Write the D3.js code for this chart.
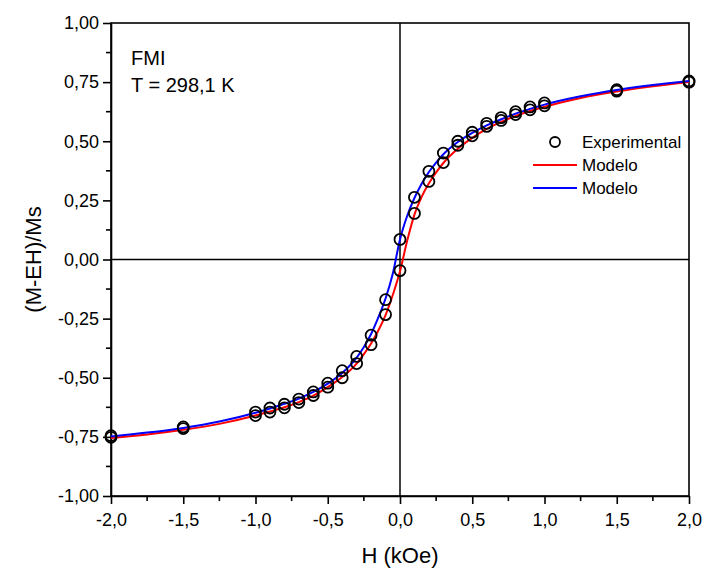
<!DOCTYPE html>
<html>
<head>
<meta charset="utf-8">
<script src="https://cdn.jsdelivr.net/npm/d3@7"></script>
<style>
  html, body { margin: 0; padding: 0; background: #fff; }
  svg { display: block; font-family: Arial, "Liberation Sans", sans-serif; }
</style>
</head>
<body>
<svg id="chart" width="705" height="577"></svg>
<script>
// Applied field H (kOe) of the measured points
const fieldH = [-2.0, -1.5, -1.0, -0.9, -0.8, -0.7, -0.6, -0.5, -0.4, -0.3, -0.2, -0.1, 0.0,
                0.1, 0.2, 0.3, 0.4, 0.5, 0.6, 0.7, 0.8, 0.9, 1.0, 1.5, 2.0];
// Reduced magnetization on the upper (descending) and lower (ascending) branches
const expUpper = [-0.745, -0.708, -0.645, -0.628, -0.612, -0.590, -0.560, -0.523, -0.470, -0.410, -0.320, -0.170, 0.085,
                  0.263, 0.373, 0.450, 0.500, 0.538, 0.576, 0.600, 0.625, 0.645, 0.662, 0.718, 0.755];
const expLower = [-0.752, -0.715, -0.660, -0.645, -0.627, -0.605, -0.575, -0.540, -0.500, -0.440, -0.360, -0.233, -0.047,
                  0.195, 0.330, 0.410, 0.483, 0.523, 0.563, 0.588, 0.613, 0.633, 0.650, 0.712, 0.750];

// Model curves sampled along H
const modelH = [-2.0, -1.75, -1.5, -1.25, -1.0, -0.9, -0.8, -0.7, -0.6, -0.5, -0.4, -0.3, -0.25, -0.2, -0.15, -0.1, -0.05,
                0.0, 0.05, 0.1, 0.15, 0.2, 0.25, 0.3, 0.4, 0.5, 0.6, 0.7, 0.8, 0.9, 1.0, 1.25, 1.5, 1.75, 2.0];
const modelRed = [-0.755, -0.740, -0.720, -0.695, -0.660, -0.643, -0.625, -0.603, -0.576, -0.540, -0.497, -0.440, -0.400, -0.355, -0.300, -0.235, -0.150,
                  -0.050, 0.080, 0.190, 0.265, 0.322, 0.368, 0.408, 0.468, 0.514, 0.552, 0.582, 0.607, 0.628, 0.646, 0.683, 0.710, 0.732, 0.750];
const modelBlue = [-0.748, -0.732, -0.712, -0.685, -0.648, -0.630, -0.610, -0.588, -0.560, -0.525, -0.480, -0.415, -0.370, -0.315, -0.245, -0.165, -0.060,
                   0.085, 0.185, 0.260, 0.320, 0.370, 0.410, 0.445, 0.497, 0.535, 0.567, 0.593, 0.617, 0.637, 0.655, 0.690, 0.717, 0.738, 0.755];

const xTicks = [-2.0, -1.5, -1.0, -0.5, 0.0, 0.5, 1.0, 1.5, 2.0];
const yTicks = [-1.0, -0.75, -0.5, -0.25, 0.0, 0.25, 0.5, 0.75, 1.0];

const legendItems = [
  { label: "Experimental", kind: "circle" },
  { label: "Modelo", kind: "line", color: "#ff0000" },
  { label: "Modelo", kind: "line", color: "#0000ff" }
];

const svg = d3.select("#chart");
const m = { left: 111, right: 689, top: 23, bottom: 496 };

const x = d3.scaleLinear().domain([-2, 2]).range([m.left, m.right]);
const y = d3.scaleLinear().domain([-1, 1]).range([m.bottom, m.top]);

// Decimal comma and plain hyphen for negatives
const comma = v => v.replace(".", ",").replace("−", "-");
const fmtX = v => comma(d3.format(".1f")(v));
const fmtY = v => comma(d3.format(".2f")(v));
const FONT = "Arial, 'Liberation Sans', sans-serif";

// Frame
svg.append("rect")
  .attr("x", m.left).attr("y", m.top)
  .attr("width", m.right - m.left).attr("height", m.bottom - m.top)
  .attr("fill", "none").attr("stroke", "#000").attr("stroke-width", 1.6);

// Zero lines
svg.append("line")
  .attr("x1", x(0)).attr("x2", x(0)).attr("y1", m.top).attr("y2", m.bottom)
  .attr("stroke", "#000").attr("stroke-width", 1.5);
svg.append("line")
  .attr("x1", m.left).attr("x2", m.right).attr("y1", y(0)).attr("y2", y(0))
  .attr("stroke", "#000").attr("stroke-width", 1.5);

// Minor ticks
const xMinor = d3.range(-1.75, 2, 0.5);
const yMinor = d3.range(-0.875, 1, 0.25);

// Bottom axis
const xAxis = d3.axisBottom(x).tickValues(xTicks).tickFormat(fmtX).tickSizeInner(8).tickSizeOuter(0).tickPadding(9);
const gx = svg.append("g").attr("transform", `translate(0,${m.bottom})`).call(xAxis);
gx.select(".domain").attr("stroke-width", 1.6);
gx.selectAll(".tick line").attr("stroke-width", 1.6);
gx.selectAll(".tick text").attr("font-size", 18).attr("font-family", FONT).attr("fill", "#000");
gx.selectAll(".minor").data(xMinor).enter().append("line")
  .attr("x1", d => x(d)).attr("x2", d => x(d)).attr("y1", 0).attr("y2", 5)
  .attr("stroke", "#000").attr("stroke-width", 1.6);

// Left axis
const yAxis = d3.axisLeft(y).tickValues(yTicks).tickFormat(fmtY).tickSizeInner(8).tickSizeOuter(0).tickPadding(4);
const gy = svg.append("g").attr("transform", `translate(${m.left},0)`).call(yAxis);
gy.select(".domain").attr("stroke-width", 1.6);
gy.selectAll(".tick line").attr("stroke-width", 1.6);
gy.selectAll(".tick text").attr("font-size", 18).attr("font-family", FONT).attr("fill", "#000");
gy.selectAll(".minor").data(yMinor).enter().append("line")
  .attr("x1", 0).attr("x2", -5).attr("y1", d => y(d)).attr("y2", d => y(d))
  .attr("stroke", "#000").attr("stroke-width", 1.6);

// Axis titles
svg.append("text")
  .attr("x", x(0)).attr("y", 563)
  .attr("text-anchor", "middle").attr("font-size", 22).text("H (kOe)");
svg.append("text")
  .attr("transform", `translate(41,${y(0)}) rotate(-90)`)
  .attr("text-anchor", "middle").attr("font-size", 22).text("(M-EH)/Ms");

// Model curves
const line = d3.line().x(d => x(d[0])).y(d => y(d[1])).curve(d3.curveMonotoneX);
svg.append("path")
  .datum(modelH.map((h, i) => [h, modelRed[i]]))
  .attr("d", line).attr("fill", "none").attr("stroke", "#ff0000").attr("stroke-width", 2);
svg.append("path")
  .datum(modelH.map((h, i) => [h, modelBlue[i]]))
  .attr("d", line).attr("fill", "none").attr("stroke", "#0000ff").attr("stroke-width", 2);

// Experimental points (both branches)
const pts = fieldH.map((h, i) => [h, expUpper[i]]).concat(fieldH.map((h, i) => [h, expLower[i]]));
svg.append("g").selectAll("circle").data(pts).enter().append("circle")
  .attr("cx", d => x(d[0])).attr("cy", d => y(d[1])).attr("r", 5.5)
  .attr("fill", "none").attr("stroke", "#000").attr("stroke-width", 1.8);

// Sample annotation
svg.append("text").attr("x", 131).attr("y", 65).attr("font-size", 20).text("FMI");
svg.append("text").attr("x", 131).attr("y", 92).attr("font-size", 20).text("T = 298,1 K");

// Legend
const lg = svg.append("g").attr("transform", "translate(0,142)");
legendItems.forEach((it, i) => {
  const yy = i * 23;
  if (it.kind === "circle") {
    lg.append("circle").attr("cx", 555).attr("cy", yy).attr("r", 5)
      .attr("fill", "none").attr("stroke", "#000").attr("stroke-width", 1.8);
  } else {
    lg.append("line").attr("x1", 533).attr("x2", 577).attr("y1", yy).attr("y2", yy)
      .attr("stroke", it.color).attr("stroke-width", 2);
  }
  lg.append("text").attr("x", 582).attr("y", yy + 6).attr("font-size", 17).text(it.label);
});
</script>
</body>
</html>
